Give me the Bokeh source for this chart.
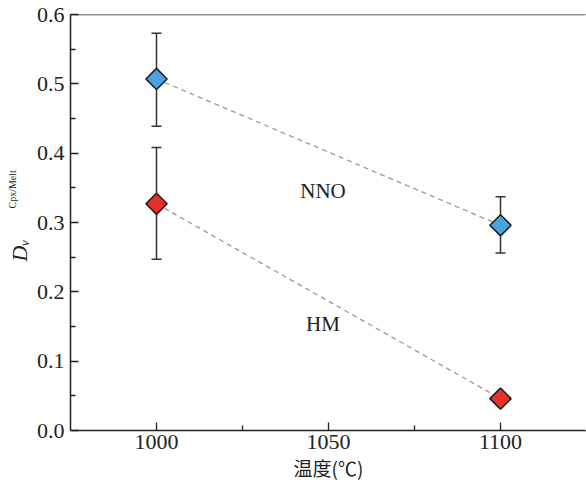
import numpy as np
from bokeh.plotting import figure
from bokeh.models import (ColumnDataSource, Whisker, Span, FixedTicker, Range1d, Title)
from bokeh.core.properties import value
from bokeh.embed import file_html
from bokeh.resources import INLINE

# data
temps = [1000, 1100]
nno_d = [0.507, 0.296]
nno_lo = [0.439, 0.256]
nno_hi = [0.573, 0.337]
hm_d = [0.327, 0.046]
hm_lo = [0.247, 0.041]
hm_hi = [0.408, 0.051]
x_ticks = [1000, 1050, 1100]
y_ticks = [0.0, 0.1, 0.2, 0.3, 0.4, 0.5, 0.6]

W, H = 586, 484
p = figure(width=W, height=H, output_backend="svg", toolbar_location=None,
           x_range=Range1d(975, 1125), y_range=Range1d(0, 0.6),
           min_border_left=70, min_border_right=0, min_border_top=14, min_border_bottom=54)
p.background_fill_color = "white"
p.border_fill_color = "white"
p.outline_line_color = None
p.grid.visible = False

SERIF = "Liberation Serif"
p.axis.axis_line_color = "#222222"
p.axis.axis_line_width = 1.5
p.axis.major_tick_line_color = "#222222"
p.axis.minor_tick_line_color = "#222222"
p.axis.major_tick_line_width = 1.3
p.axis.minor_tick_line_width = 1.3
p.axis.major_tick_in = 8
p.axis.major_tick_out = 0
p.axis.minor_tick_in = 5
p.axis.minor_tick_out = 0
p.axis.major_label_text_font = SERIF
p.axis.major_label_text_font_size = "22px"
p.axis.major_label_text_color = "#222222"
p.xaxis.major_label_standoff = 4
p.yaxis.major_label_standoff = 6

p.xaxis.ticker = FixedTicker(ticks=x_ticks, minor_ticks=[1025, 1075])
p.yaxis.ticker = FixedTicker(ticks=y_ticks, minor_ticks=[0.05, 0.15, 0.25, 0.35, 0.45, 0.55])
p.yaxis.major_label_overrides = {t: f"{t:.1f}" for t in y_ticks}

p.xaxis.axis_label = "温度(℃)"
p.xaxis.axis_label_text_font = "Noto Sans CJK SC"
p.xaxis.axis_label_text_font_style = "normal"
p.xaxis.axis_label_text_font_size = "19px"
p.xaxis.axis_label_text_color = "#222222"
p.xaxis.axis_label_standoff = 2

p.add_layout(Span(location=0.6, dimension="width", line_color="#222222", line_width=1.5))
p.add_layout(Span(location=1125, dimension="height", line_color="white", line_width=3,
                  level="overlay"))

# connecting dashed lines
for ys in (nno_d, hm_d):
    p.line(temps, ys, line_color="#999999", line_width=1.3, line_dash="5 4")

# error bars
for lo, hi in ((nno_lo, nno_hi), (hm_lo, hm_hi)):
    src = ColumnDataSource(dict(x=temps, lo=lo, hi=hi))
    w = Whisker(source=src, base="x", lower="lo", upper="hi",
                line_color="#333333", line_width=1.5)
    for head in (w.upper_head, w.lower_head):
        head.size = 10
        head.line_color = "#333333"
        head.line_width = 1.5
    p.add_layout(w)

p.scatter(temps, nno_d, marker="square", angle=np.pi / 4, size=15,
          fill_color="#4aa3dc", line_color="#1a1a1a", line_width=1.5)
p.scatter(temps, hm_d, marker="square", angle=np.pi / 4, size=15,
          fill_color="#e8302a", line_color="#1a1a1a", line_width=1.5)

p.text(x=[1048.4], y=[0.345], text=["NNO"], text_font=value(SERIF), text_font_size="21px",
       text_align="center", text_baseline="middle", text_color="#222222")
p.text(x=[1048.4], y=[0.154], text=["HM"], text_font=value(SERIF), text_font_size="21px",
       text_align="center", text_baseline="middle", text_color="#222222")

# y-axis title  D_v^{Cpx/Melt}, built from two vertical titles in the left panel
p.add_layout(Title(text="Dᵥ", align="left", offset=169, standoff=3,
                   text_font=SERIF, text_font_style="italic", text_font_size="22px",
                   text_color="#222222"), "left")
p.add_layout(Title(text="Cpx/Melt", align="left", offset=222, standoff=-28,
                   text_font=SERIF, text_font_style="normal", text_font_size="10px",
                   text_color="#222222"), "left")

open("out.html", "w").write(file_html(p, INLINE))
